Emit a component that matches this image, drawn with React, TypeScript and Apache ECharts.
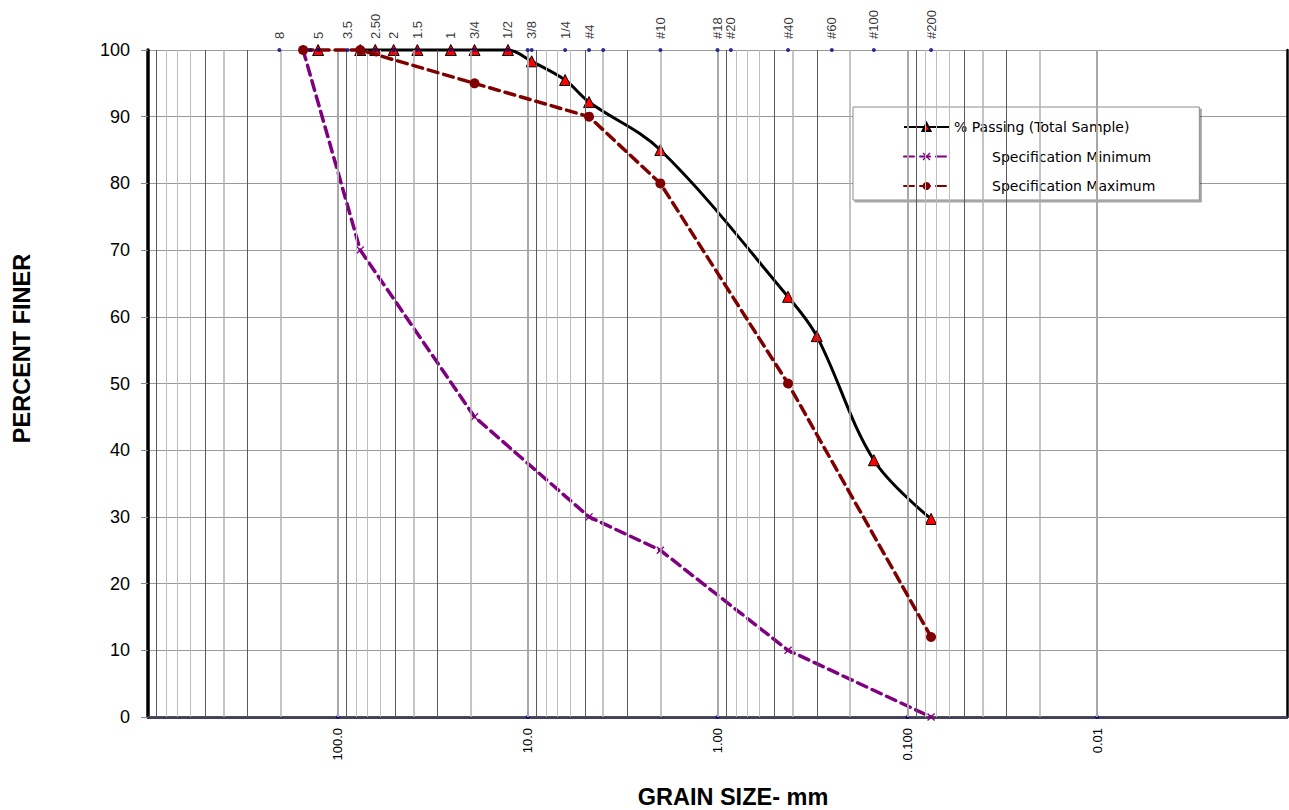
import React, { useEffect, useRef } from "react";
import * as echarts from "echarts";

// Sieve openings (mm) for the sample gradation
const sampleSizesMm = [152.4, 127, 88.9, 76.2, 63.5, 50.8, 38.1, 25.4, 19.05, 12.7, 9.525, 6.35, 4.75, 2.0, 0.425, 0.3, 0.15, 0.075];
const samplePassing: (number | null)[] = [null, 100, null, 100, 100, 100, 100, 100, 100, 100, 98.3, 95.5, 92.2, 85, 63, 57.1, 38.5, 29.7];

// Specification band
const specSizesMm = [152.4, 76.2, 19.05, 4.75, 2.0, 0.425, 0.075];
const specMinimum = [100, 70, 45, 30, 25, 10, 0];
const specMaximum = [100, 100, 95, 90, 80, 50, 12];

// Sieve designations along the top axis
const sieveMarkSizesMm = [203.2, 139.7, 127, 88.9, 63.5, 50.8, 38.1, 25.4, 19.05, 12.7, 10, 9.525, 6.35, 4.75, 4.0, 2.0, 1.0, 0.85, 0.425, 0.25, 0.15, 0.075];
const sieveMarkLabels = ["8", "", "5", "3.5", "2.50", "2", "1.5", "1", "3/4", "1/2", "", "3/8", "1/4", "#4", "", "#10", "#18", "#20", "#40", "#60", "#100", "#200"];

// Bottom axis tick labels
const grainTickValues = [100, 10, 1, 0.1, 0.01];
const grainTickLabels = ["100.0", "10.0", "1.00", "0.100", "0.01"];

const NAME_PASS = "% Passing (Total Sample)";
const NAME_MIN = "Specification Minimum";
const NAME_MAX = "Specification Maximum";

const ARIAL = "'Liberation Sans', Arial, sans-serif";

function buildGridLines() {
  const lines: any[] = [];
  for (let e = -3; e <= 2; e++) {
    for (let m = 1; m <= 9; m++) {
      const v = m * Math.pow(10, e);
      if (e === -3 && m === 1) continue;
      let color = "#bdbdbd";
      let width = 1;
      if (m === 1) {
        color = "#a8a8a8";
        width = 2;
      } else if (m === 3 || m === 5 || m === 9) {
        color = "#5a5a5a";
      } else if (m === 4 || m === 2) {
        color = "#b0b0b0";
        width = 1.5;
      }
      lines.push({ xAxis: v, lineStyle: { color, width, type: "solid" } });
    }
  }
  return lines;
}

export default function App() {
  const ref = useRef<HTMLDivElement>(null);

  useEffect(() => {
    if (!ref.current) return;
    const chart = echarts.init(ref.current, null, { renderer: "svg" });

    const pair = (xs: number[], ys: (number | null)[]) =>
      xs.map((x, i) => [x, ys[i] === null ? "-" : ys[i]]);

    const option: any = {
      animation: false,
      backgroundColor: "#ffffff",
      grid: {
        left: 148,
        right: 2,
        top: 50,
        bottom: 93,
        containLabel: false,
        outerBoundsMode: "none",
      },
      legend: {
        data: [NAME_PASS, NAME_MIN, NAME_MAX],
        orient: "vertical",
        left: 853,
        top: 107,
        itemWidth: 45,
        itemHeight: 10,
        itemGap: 15.5,
        padding: [13, 44, 7, 50],
        backgroundColor: "#ffffff",
        borderColor: "#8c8c8c",
        borderWidth: 1,
        shadowColor: "rgba(0,0,0,0.35)",
        shadowOffsetX: 2,
        shadowOffsetY: 2,
        shadowBlur: 0,
        formatter: (name: string) => (name === NAME_PASS ? name : "{pad|}" + name),
        textStyle: {
          fontFamily: "'DejaVu Sans', Verdana, sans-serif",
          fontSize: 14,
          color: "#000",
          rich: { pad: { width: 38 } },
        },
      },
      xAxis: [
        {
          type: "log",
          logBase: 10,
          min: 0.001,
          max: 1000,
          inverse: true,
          position: "bottom",
          name: "GRAIN SIZE- mm",
          nameLocation: "middle",
          nameGap: 68,
          nameTextStyle: {
            fontFamily: ARIAL,
            fontSize: 23.5,
            fontWeight: "bold",
            color: "#000",
            padding: [0, 0, 0, 31],
          },
          axisLine: { show: true, lineStyle: { color: "#000040", width: 2.5 } },
          axisTick: { show: false },
          splitLine: { show: false },
          minorSplitLine: { show: false },
          axisLabel: {
            show: true,
            interval: 0,
            rotate: 90,
            margin: 11,
            fontFamily: ARIAL,
            fontSize: 13,
            color: "#000",
            formatter: (v: number) => {
              const idx = grainTickValues.findIndex(
                (t) => Math.abs(Math.log10(t) - Math.log10(v)) < 1e-6
              );
              return idx >= 0 ? grainTickLabels[idx] : "";
            },
          },
        },
        {
          type: "log",
          logBase: 10,
          min: 0.001,
          max: 1000,
          inverse: true,
          position: "top",
          axisLine: { show: true, lineStyle: { color: "#555555", width: 1.5 } },
          axisTick: { show: false },
          axisLabel: { show: false },
          splitLine: { show: false },
        },
      ],
      yAxis: [
        {
          type: "value",
          min: 0,
          max: 100,
          interval: 10,
          position: "left",
          name: "PERCENT FINER",
          nameLocation: "middle",
          nameGap: 114,
          nameTextStyle: {
            fontFamily: ARIAL,
            fontSize: 23.5,
            fontWeight: "bold",
            color: "#000",
            padding: [0, 0, 0, 70],
          },
          axisLine: { show: true, lineStyle: { color: "#000", width: 3.5 } },
          axisTick: { show: true, length: 7, lineStyle: { color: "#888", width: 1 } },
          axisLabel: { margin: 18, fontFamily: ARIAL, fontSize: 18, color: "#000" },
          splitLine: { show: true, lineStyle: { color: "#9a9a9a", width: 1 } },
        },
        {
          type: "value",
          min: 0,
          max: 100,
          interval: 10,
          position: "right",
          axisLine: { show: true, lineStyle: { color: "#000", width: 2.5 } },
          axisTick: { show: false },
          axisLabel: { show: false },
          splitLine: { show: false },
        },
      ],
      series: [
        {
          name: "gridlines",
          type: "scatter",
          xAxisIndex: 0,
          yAxisIndex: 0,
          z: 1,
          silent: true,
          clip: false,
          symbol: "circle",
          symbolSize: 4,
          itemStyle: { color: "#000080" },
          data: grainTickValues.map((v) => [v, 0]),
          markLine: {
            silent: true,
            symbol: ["none", "none"],
            label: { show: false },
            emphasis: { disabled: true },
            data: buildGridLines(),
          },
        },
        {
          name: "sieves",
          type: "scatter",
          xAxisIndex: 0,
          yAxisIndex: 0,
          z: 6,
          silent: true,
          clip: false,
          symbol: "circle",
          symbolSize: 4,
          itemStyle: { color: "#000080" },
          data: sieveMarkSizesMm.map((v) => [v, 100]),
          label: {
            show: true,
            position: "top",
            distance: 9,
            rotate: 90,
            align: "left",
            verticalAlign: "middle",
            fontFamily: ARIAL,
            fontSize: 13,
            color: "#000",
            formatter: (p: any) => sieveMarkLabels[p.dataIndex],
          },
        },
        {
          name: NAME_PASS,
          type: "line",
          xAxisIndex: 0,
          yAxisIndex: 0,
          z: 3,
          clip: false,
          smooth: 0.35,
          connectNulls: false,
          symbol: "triangle",
          symbolSize: 11,
          itemStyle: { color: "#ff0000", borderColor: "#000", borderWidth: 1 },
          lineStyle: { color: "#000", width: 3 },
          data: pair(sampleSizesMm, samplePassing),
        },
        {
          name: NAME_MIN,
          type: "line",
          xAxisIndex: 0,
          yAxisIndex: 0,
          z: 4,
          clip: false,
          symbol:
            "path://M0 1.2L1.2 0L5 3.8L8.8 0L10 1.2L6.2 5L10 8.8L8.8 10L5 6.2L1.2 10L0 8.8L3.8 5Z",
          symbolSize: 8,
          itemStyle: { color: "#800080" },
          lineStyle: { color: "#800080", width: 3.5, type: [10, 6], cap: "round" },
          data: pair(specSizesMm, specMinimum),
        },
        {
          name: NAME_MAX,
          type: "line",
          xAxisIndex: 0,
          yAxisIndex: 0,
          z: 5,
          clip: false,
          symbol: "circle",
          symbolSize: 10,
          itemStyle: { color: "#800000" },
          lineStyle: { color: "#800000", width: 3.5, type: [10, 6], cap: "round" },
          data: pair(specSizesMm, specMaximum),
        },
      ],
    };

    chart.setOption(option);
    return () => {
      chart.dispose();
    };
  }, []);

  return (
    <div
      ref={ref}
      style={{ position: "absolute", left: 0, top: 0, width: 1289, height: 810, background: "#fff" }}
    />
  );
}
